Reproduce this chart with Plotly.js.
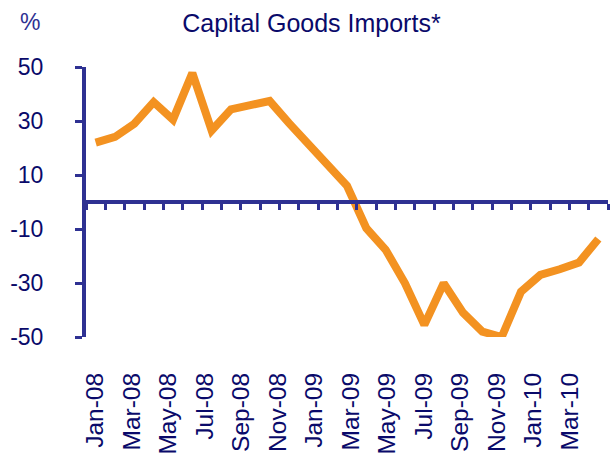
<!DOCTYPE html>
<html>
<head>
<meta charset="utf-8">
<script src="https://cdn.plot.ly/plotly-3.0.1.min.js"></script>
<style>html,body{margin:0;padding:0;background:#fff;}#chart{width:613px;height:467px;}</style>
</head>
<body>
<div id="chart"></div>
<script>
const months = ["Jan-08","Feb-08","Mar-08","Apr-08","May-08","Jun-08","Jul-08","Aug-08","Sep-08","Oct-08","Nov-08","Dec-08",
  "Jan-09","Feb-09","Mar-09","Apr-09","May-09","Jun-09","Jul-09","Aug-09","Sep-09","Oct-09","Nov-09","Dec-09",
  "Jan-10","Feb-10","Mar-10"];
const importsPct = [22, 24.1, 29, 37, 30.5, 47.8, 26.5, 34.3, 35.9, 37.4, 29.2, 21.5,
  13.8, 6, -9.7, -17.7, -30.1, -45.5, -30.1, -41, -48, -50, -33.2, -27, -24.9, -22.4, -13.7];
const tickLabels = ["Jan-08","Mar-08","May-08","Jul-08","Sep-08","Nov-08","Jan-09","Mar-09","May-09","Jul-09","Sep-09","Nov-09","Jan-10","Mar-10"];
const yTicks = [-50, -30, -10, 10, 30, 50];

const navy = "#2E3192";
const textNavy = "#0A0A6A";
const font = "Liberation Sans, Arial, sans-serif";

const data = [
  {x: months, y: importsPct, type: "scatter", mode: "lines", xaxis: "x2", yaxis: "y",
   line: {color: "rgba(0,0,0,0)", width: 0}, hoverinfo: "skip", showlegend: false},
  {x: months, y: importsPct, type: "scatter", mode: "lines", xaxis: "x", yaxis: "y",
   line: {color: "#F39221", width: 8}, hoverinfo: "skip"}
];

const layout = {
  width: 613, height: 467,
  margin: {l: 86, r: 5, t: 67, b: 130},
  paper_bgcolor: "#fff", plot_bgcolor: "rgba(0,0,0,0)",
  showlegend: false,
  font: {family: font, color: textNavy, size: 22},
  title: {text: "Capital Goods Imports*", x: 0.508, xanchor: "center", y: 0.95, yanchor: "middle",
          font: {family: font, size: 25, color: textNavy}},
  xaxis: {
    type: "category", categoryorder: "array", categoryarray: months,
    range: [-0.5, 26.5], anchor: "free", position: 0.5, domain: [0, 1],
    showline: true, linecolor: navy, linewidth: 4,
    ticks: "outside", tickson: "boundaries", ticklen: 6, tickwidth: 3, tickcolor: navy,
    showticklabels: false, showgrid: false, zeroline: false, fixedrange: true
  },
  xaxis2: {
    type: "category", categoryorder: "array", categoryarray: months,
    range: [-0.5, 26.5], anchor: "y", domain: [0.0, 0.9445],
    showline: false, ticks: "", tickmode: "array", tickvals: tickLabels, ticktext: tickLabels,
    tickangle: -90, ticklabelstandoff: 30,
    tickfont: {family: font, size: 24.5, color: textNavy},
    showgrid: false, zeroline: false, fixedrange: true
  },
  yaxis: {
    range: [-50, 50], anchor: "x", domain: [0, 1],
    tickmode: "array", tickvals: yTicks, ticktext: yTicks.map(String),
    showline: true, linecolor: navy, linewidth: 4,
    ticks: "outside", ticklen: 7, tickwidth: 3, tickcolor: navy,
    ticklabelstandoff: 27,
    tickfont: {family: font, size: 23, color: textNavy},
    showgrid: false, zeroline: false, fixedrange: true
  },
  annotations: [
    {text: "%", xref: "paper", yref: "paper", x: -0.107, y: 1.167, xanchor: "center", yanchor: "middle",
     showarrow: false, font: {family: font, size: 23, color: navy}}
  ]
};

Plotly.newPlot("chart", data, layout, {displayModeBar: false, staticPlot: true});
</script>
</body>
</html>
